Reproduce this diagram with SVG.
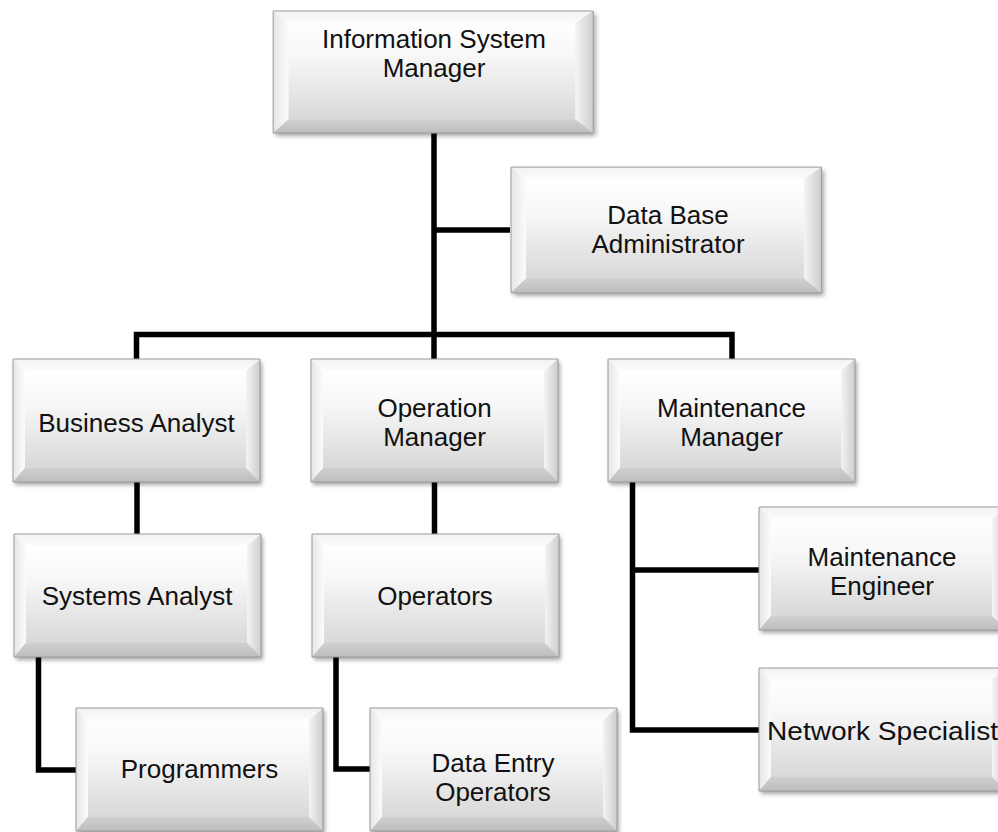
<svg xmlns="http://www.w3.org/2000/svg" xmlns:xlink="http://www.w3.org/1999/xlink" width="998" height="832" viewBox="0 0 998 832">
  <style>
    .lbl { font-family: "Liberation Sans", Arial, sans-serif; font-size: 26px; fill: #111111; }
    .mid { text-anchor: middle; }
    .wire { fill: none; stroke: #000000; stroke-width: 5.5; stroke-linejoin: miter; stroke-linecap: butt; }
    .edge { fill: none; stroke: #9c9c9c; stroke-width: 1; vector-effect: non-scaling-stroke; }
  </style>
  <defs>
    <linearGradient id="gFace" x1="0" y1="0" x2="0" y2="1">
      <stop offset="0" stop-color="#ffffff"/>
      <stop offset="0.35" stop-color="#f7f7f7"/>
      <stop offset="1" stop-color="#d8d8d8"/>
    </linearGradient>
    <linearGradient id="gTop" x1="0" y1="0" x2="0" y2="1">
      <stop offset="0" stop-color="#f2f2f2"/>
      <stop offset="1" stop-color="#fcfcfc"/>
    </linearGradient>
    <linearGradient id="gLeft" x1="0" y1="0" x2="1" y2="0">
      <stop offset="0" stop-color="#e6e6e6"/>
      <stop offset="1" stop-color="#fbfbfb"/>
    </linearGradient>
    <linearGradient id="gRight" x1="0" y1="0" x2="1" y2="0">
      <stop offset="0" stop-color="#f4f4f4"/>
      <stop offset="1" stop-color="#cdcdcd"/>
    </linearGradient>
    <linearGradient id="gBottom" x1="0" y1="0" x2="0" y2="1">
      <stop offset="0" stop-color="#d0d0d0"/>
      <stop offset="1" stop-color="#bdbdbd"/>
    </linearGradient>
    <filter id="soft" x="-10%" y="-10%" width="130%" height="140%">
      <feGaussianBlur stdDeviation="2"/>
    </filter>
    <!-- bevelled box: drop shadow, face, four bevel facets, thin edge -->
    <symbol id="bevel" viewBox="-4 -4 257 133" preserveAspectRatio="none" overflow="visible">
      <rect x="2" y="3" width="247" height="123" fill="#000000" opacity="0.35" filter="url(#soft)"/>
      <rect x="0" y="0" width="247" height="123" fill="url(#gFace)"/>
      <polygon points="0,0 247,0 233,12 12,12" fill="url(#gTop)"/>
      <polygon points="0,0 12,12 12,109 0,123" fill="url(#gLeft)"/>
      <polygon points="247,0 247,123 233,109 233,12" fill="url(#gRight)"/>
      <polygon points="0,123 12,109 233,109 247,123" fill="url(#gBottom)"/>
      <rect x="12" y="12" width="221" height="97" fill="url(#gFace)"/>
      <rect x="0" y="0" width="247" height="123" class="edge"/>
    </symbol>
  </defs>

  <rect x="0" y="0" width="998" height="832" fill="#ffffff"/>

  <!-- connectors -->
  <g id="connectors">
    <path class="wire" d="M434,133 V359"/>
    <path class="wire" d="M434,230 H510"/>
    <path class="wire" d="M136.5,359 V334.5 H732 V359"/>
    <path class="wire" d="M137,482 V534"/>
    <path class="wire" d="M434.5,482 V534"/>
    <path class="wire" d="M38.5,657 V770 H76"/>
    <path class="wire" d="M336,657 V769 H370"/>
    <path class="wire" d="M632.5,482 V730 H759"/>
    <path class="wire" d="M632.5,570 H759"/>
  </g>

  <!-- nodes -->
  <g id="n-ism">
    <use xlink:href="#bevel" href="#bevel" x="268" y="7" width="333" height="132"/>
    <text class="lbl mid" x="434" y="48">Information System</text>
    <text class="lbl mid" x="434" y="77">Manager</text>
  </g>
  <g id="n-dba">
    <use xlink:href="#bevel" href="#bevel" x="506" y="163" width="323" height="136"/>
    <text class="lbl mid" x="668" y="224">Data Base</text>
    <text class="lbl mid" x="668" y="253">Administrator</text>
  </g>
  <g id="n-business-analyst">
    <use xlink:href="#bevel" href="#bevel" x="9" y="355" width="257" height="133"/>
    <text class="lbl mid" x="136.5" y="432">Business Analyst</text>
  </g>
  <g id="n-operation-manager">
    <use xlink:href="#bevel" href="#bevel" x="307" y="355" width="257" height="133"/>
    <text class="lbl mid" x="434.5" y="417">Operation</text>
    <text class="lbl mid" x="434.5" y="446">Manager</text>
  </g>
  <g id="n-maintenance-manager">
    <use xlink:href="#bevel" href="#bevel" x="604" y="355" width="257" height="133"/>
    <text class="lbl mid" x="731.5" y="417">Maintenance</text>
    <text class="lbl mid" x="731.5" y="446">Manager</text>
  </g>
  <g id="n-systems-analyst">
    <use xlink:href="#bevel" href="#bevel" x="10" y="530" width="257" height="133"/>
    <text class="lbl mid" x="137" y="605">Systems Analyst</text>
  </g>
  <g id="n-operators">
    <use xlink:href="#bevel" href="#bevel" x="308" y="530" width="257" height="133"/>
    <text class="lbl mid" x="435" y="605">Operators</text>
  </g>
  <g id="n-programmers">
    <use xlink:href="#bevel" href="#bevel" x="72" y="704" width="257" height="133"/>
    <text class="lbl mid" x="199.5" y="778">Programmers</text>
  </g>
  <g id="n-data-entry">
    <use xlink:href="#bevel" href="#bevel" x="366" y="704" width="257" height="133"/>
    <text class="lbl mid" x="493" y="772">Data Entry</text>
    <text class="lbl mid" x="493" y="801">Operators</text>
  </g>
  <g id="n-maintenance-engineer">
    <use xlink:href="#bevel" href="#bevel" x="755" y="503" width="257" height="133"/>
    <text class="lbl mid" x="882" y="566">Maintenance</text>
    <text class="lbl mid" x="882" y="595">Engineer</text>
  </g>
  <g id="n-network-specialist">
    <use xlink:href="#bevel" href="#bevel" x="755" y="664" width="257" height="133"/>
    <text class="lbl" x="767" y="740" textLength="231" lengthAdjust="spacingAndGlyphs">Network Specialist</text>
  </g>
</svg>
